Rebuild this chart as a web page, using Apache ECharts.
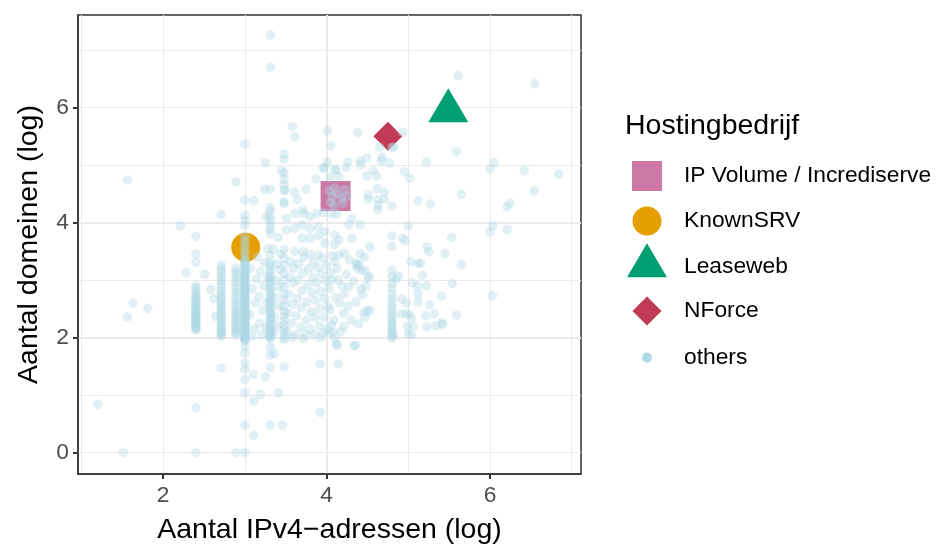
<!DOCTYPE html>
<html>
<head>
<meta charset="utf-8">
<script src="https://cdn.jsdelivr.net/npm/echarts@6/dist/echarts.min.js"></script>
<style>
  html, body { margin: 0; padding: 0; background: #fff; }
  #chart { width: 940px; height: 544px; }
</style>
</head>
<body>
<div id="chart"></div>
<script>
// named hosting companies (log scale values)
const hostNames = ['IP Volume / Incrediserve', 'KnownSRV', 'Leaseweb', 'NForce']
const hostX = [4.11, 3.01, 5.49, 4.75]
const hostY = [4.46, 3.57, 5.94, 5.50]

// tick labels
const xTicks = [2, 4, 6]
const yTicks = [0, 2, 4, 6]

// "others": points stacked on common IP counts
const columnX = [2.40, 2.71, 2.89, 3.00, 3.31, 3.48, 4.80, 2.40, 2.71, 2.89, 3.00, 3.31]
const col240 = [0.0, 0.78, 2.13, 2.17, 2.21, 2.26, 2.30, 2.35, 2.39, 2.44, 2.49, 2.54, 2.60, 2.66, 2.73, 2.81, 2.91, 3.31, 3.45, 3.76]
const col271 = [1.47, 2.02, 2.07, 2.13, 2.19, 2.26, 2.33, 2.40, 2.47, 2.55, 2.63, 2.72, 2.82, 2.93, 3.05, 3.15, 3.26, 4.14]
const col289 = [0.0, 2.05, 2.11, 2.18, 2.26, 2.34, 2.42, 2.51, 2.61, 2.72, 2.84, 2.97, 3.09, 3.21, 4.71]
const col300 = [0.0, 0.48, 1.04, 1.27, 1.45, 1.56, 1.73, 1.84, 1.95, 1.98, 2.01, 2.04, 2.07, 2.10, 2.13, 2.16, 2.19, 2.22, 2.25, 2.28,
  2.31, 2.34, 2.37, 2.40, 2.43, 2.46, 2.49, 2.52, 2.56, 2.60, 2.64, 2.68, 2.72, 2.76, 2.80, 2.84, 2.88, 2.92, 2.96, 3.00,
  3.04, 3.08, 3.12, 3.16, 3.20, 3.25, 3.30, 3.36, 3.42, 3.48, 3.55, 3.62, 3.69, 3.76, 3.95, 4.04, 4.13, 4.39, 5.36]
const col331 = [1.70, 1.84, 1.99, 2.04, 2.10, 2.16, 2.23, 2.30, 2.37, 2.44, 2.52, 2.60, 2.69, 2.78, 2.88, 2.98, 3.08, 3.19, 3.31, 3.43,
  3.81, 3.88, 3.95, 4.04, 4.10, 4.20, 4.26, 4.58, 6.70, 7.26]
const col348 = [1.49, 1.96, 2.01, 2.07, 2.14, 2.21, 2.29, 2.37, 2.46, 2.55, 2.65, 2.76, 2.88, 3.00, 3.12, 3.25, 3.38, 3.53,
  4.33, 4.36, 4.56, 4.65, 4.75, 4.86, 5.10, 5.19]
const col480 = [1.99, 2.03, 2.07, 2.11, 2.15, 2.19, 2.24, 2.29, 2.34, 2.40, 2.46, 2.53, 2.60, 2.68, 2.76, 2.85, 2.95, 3.05, 3.17,
  3.59, 3.77, 4.29, 5.31]
// repeated values on the same columns (overlapping domains)
const col240b = [2.15, 2.19, 2.24, 2.28, 2.33, 2.37, 2.42, 2.47, 2.52, 2.57, 2.63, 2.69, 2.77, 2.86]
const col271b = [2.05, 2.10, 2.16, 2.23, 2.30, 2.37, 2.44, 2.51, 2.59, 2.68, 2.77, 2.88, 2.99, 3.10, 3.20]
const col289b = [2.08, 2.15, 2.22, 2.30, 2.38, 2.46, 2.56, 2.66, 2.78, 2.90, 3.03, 3.15]
const col300b = [1.96, 1.99, 2.02, 2.05, 2.08, 2.11, 2.14, 2.17, 2.20, 2.23, 2.26, 2.29, 2.32, 2.35, 2.38, 2.41, 2.44, 2.47, 2.50,
  2.54, 2.58, 2.62, 2.66, 2.70, 2.74, 2.78, 2.82, 2.86, 2.90, 2.94, 2.98, 3.02, 3.06, 3.10, 3.14, 3.18, 3.23, 3.28, 3.33]
const col331b = [2.01, 2.07, 2.13, 2.20, 2.27, 2.34, 2.41, 2.48, 2.56, 2.64, 2.73, 2.83, 2.93, 3.03, 3.14, 3.25]
const columnY = [col240, col271, col289, col300, col331, col348, col480, col240b, col271b, col289b, col300b, col331b]

// "others": loose points
const outerPts = [[1.20, 0.84], [1.51, 0.0], [1.56, 2.36], [1.63, 2.60], [1.81, 2.51], [1.56, 4.74], [2.21, 3.94], [2.28, 3.13],
  [2.51, 3.10], [2.58, 2.84], [2.62, 2.68], [2.64, 2.37], [3.10, 1.36], [3.11, 0.90], [3.11, 0.30], [3.19, 1.01], [3.25, 1.32],
  [3.31, 1.48], [3.31, 0.48], [3.36, 1.72], [3.41, 1.04], [3.46, 0.48], [3.92, 1.54], [3.92, 0.70], [4.14, 1.54], [4.13, 1.87],
  [4.34, 1.86], [5.61, 6.55], [6.55, 6.41], [6.00, 4.93], [6.05, 5.04], [6.42, 4.90], [6.84, 4.84], [6.54, 4.55], [6.24, 4.34],
  [6.21, 4.27], [6.00, 3.84], [6.03, 3.94], [6.21, 3.88], [6.03, 2.73]]
const upperPts = [[3.58, 5.67], [3.61, 5.49], [4.01, 5.59], [4.05, 5.33], [3.25, 5.04], [4.01, 5.05], [3.97, 4.95], [4.10, 4.92],
  [3.45, 4.90], [4.38, 5.56], [4.93, 5.57], [4.65, 5.31], [4.82, 5.31], [5.59, 5.23], [5.22, 5.05], [4.68, 5.13], [4.77, 5.03],
  [4.49, 5.12], [4.41, 5.07], [4.26, 5.05], [4.12, 4.91], [4.24, 4.96], [4.42, 5.00], [4.57, 4.90], [4.67, 5.07], [4.95, 4.88],
  [4.49, 4.81], [4.61, 4.81], [5.02, 4.77], [4.15, 4.80], [4.04, 4.79], [4.62, 4.59], [4.71, 4.52], [4.51, 4.48], [4.51, 4.40],
  [4.63, 4.40], [4.63, 4.30], [4.63, 4.23], [4.71, 4.40], [5.12, 4.38], [5.27, 4.32], [5.65, 4.49], [3.87, 4.76], [3.96, 4.94],
  [3.24, 4.58], [3.49, 4.56], [3.61, 4.53], [3.75, 4.58], [3.11, 4.38], [3.64, 4.40], [3.26, 4.10], [3.51, 4.07], [3.61, 4.16],
  [3.71, 4.22], [3.72, 4.16], [3.80, 4.10], [3.88, 4.16], [3.96, 4.17], [3.41, 3.74], [3.51, 3.87], [3.61, 3.90], [3.70, 3.96],
  [3.70, 3.73], [3.80, 3.90], [3.80, 3.73], [3.90, 3.92], [3.90, 3.77], [3.98, 3.84], [3.98, 3.64], [3.71, 3.49], [3.28, 3.54],
  [3.35, 3.54], [3.80, 3.45], [3.90, 3.44], [4.03, 4.55], [4.07, 4.45], [4.13, 4.50], [4.18, 4.42], [4.05, 4.35], [4.22, 4.57],
  [4.10, 4.60], [4.25, 4.45], [4.20, 4.33], [4.09, 4.30], [4.06, 4.16], [4.12, 4.15], [4.31, 4.07], [4.27, 3.96], [4.41, 3.96],
  [4.10, 3.78], [4.15, 3.70], [4.10, 3.62], [4.31, 3.73], [4.53, 3.58], [4.93, 3.73], [4.96, 3.68], [5.00, 3.94], [5.23, 3.58],
  [5.25, 3.49], [5.45, 3.46], [5.53, 3.74], [4.41, 3.46], [4.22, 3.46], [4.15, 3.43], [4.37, 3.29], [4.37, 3.20]]
const rightPts = [[5.65, 3.27], [5.03, 3.32], [5.12, 3.29], [5.15, 3.29], [5.17, 3.08], [5.05, 2.95], [5.11, 2.90], [5.22, 2.90],
  [5.54, 2.94], [5.41, 2.72], [5.12, 2.76], [5.12, 2.62], [5.26, 2.57], [5.21, 2.38], [5.32, 2.41], [5.59, 2.39], [5.41, 2.26],
  [5.34, 2.21], [4.98, 2.60], [5.01, 2.39], [5.04, 2.34], [4.99, 2.19], [4.88, 3.07], [4.85, 3.01], [4.92, 2.67], [4.97, 2.42],
  [4.91, 2.41], [4.82, 2.05], [5.04, 2.05], [5.06, 2.20], [5.23, 2.19], [5.42, 2.23], [5.00, 2.06], [4.48, 2.90], [4.42, 2.84],
  [4.52, 3.06], [4.47, 3.16], [4.50, 2.47], [4.46, 2.44], [4.21, 2.75], [4.16, 2.60], [4.21, 2.42], [4.39, 2.24], [4.21, 2.20],
  [4.06, 2.22], [4.10, 3.32], [4.37, 3.27], [4.43, 3.17], [4.51, 3.04], [4.27, 2.88], [4.14, 3.00], [4.06, 3.00], [4.04, 2.48],
  [4.53, 2.47], [4.47, 2.35], [4.08, 2.09], [4.04, 2.08], [4.12, 1.88], [4.35, 1.86]]
const centerPts = [[3.08, 2.02], [3.06, 2.40], [3.09, 2.85], [3.07, 3.20], [3.12, 2.15], [3.13, 2.60], [3.14, 3.02], [3.15, 3.40],
  [3.18, 2.25], [3.17, 2.72], [3.19, 3.15], [3.21, 2.05], [3.22, 2.48], [3.23, 2.90], [3.24, 3.30], [3.26, 2.18], [3.27, 2.62],
  [3.28, 3.05], [3.35, 2.08], [3.36, 2.35], [3.37, 2.70], [3.38, 3.00], [3.39, 3.28], [3.40, 2.20], [3.41, 2.55], [3.42, 2.88],
  [3.43, 3.18], [3.44, 3.45], [3.52, 2.10], [3.53, 2.42], [3.54, 2.75], [3.55, 3.05], [3.56, 3.32], [3.57, 2.25], [3.58, 2.58],
  [3.59, 2.95], [3.60, 3.20], [3.61, 3.50], [3.62, 2.05], [3.63, 2.38], [3.64, 2.68], [3.65, 3.00], [3.66, 3.28], [3.68, 2.18],
  [3.69, 2.52], [3.70, 2.82], [3.71, 3.12], [3.72, 3.40], [3.74, 2.05], [3.75, 2.30], [3.76, 2.62], [3.77, 2.92], [3.78, 3.20],
  [3.79, 2.15], [3.81, 2.45], [3.82, 2.78], [3.83, 3.05], [3.84, 3.32], [3.85, 2.05], [3.86, 2.35], [3.87, 2.65], [3.88, 2.95],
  [3.89, 3.22], [3.91, 2.20], [3.92, 2.50], [3.93, 2.80], [3.94, 3.10], [3.95, 3.38], [3.96, 2.08], [3.97, 2.35], [3.98, 2.68],
  [3.99, 2.98], [4.00, 3.25], [4.01, 2.15], [4.02, 2.55], [4.03, 2.85], [4.05, 3.12], [4.07, 3.42], [4.09, 2.30], [4.11, 2.70],
  [4.13, 3.20], [4.17, 2.10], [4.19, 2.90], [4.24, 3.10], [4.26, 2.55], [4.28, 3.35], [4.30, 2.30], [4.33, 2.98], [4.36, 2.62],
  [4.40, 3.25], [4.44, 2.75], [4.46, 3.40], [3.30, 2.02], [3.58, 2.00], [3.72, 1.98], [3.93, 2.00], [4.10, 1.98]]

const FONT = '"Liberation Sans", Arial, sans-serif'
const hostColors = ['#CC79A7', '#E69F00', '#009E73', '#C13B57']
const hostSymbols = ['rect', 'circle', 'triangle', 'diamond']
const hostSizes = [[30, 30], [29, 29], [40, 34], [29, 29]]

let othersData = []
columnX.forEach((x, i) => {
  columnY[i].forEach(y => othersData.push([x, y]))
})
othersData = othersData.concat(outerPts, upperPts, rightPts, centerPts)

const chart = echarts.init(document.getElementById('chart'), null, { renderer: 'canvas' })

function evenLabel(v) {
  const r = Math.round(v)
  if (Math.abs(v - r) > 1e-6 || r % 2 !== 0) return ''
  return String(r)
}

const majorLine = { show: true, showMinLine: false, showMaxLine: false, lineStyle: { color: '#EBEBEB', width: 2 } }
const minorLine = { show: true, showMinLine: false, showMaxLine: false, lineStyle: { color: '#EBEBEB', width: 1 } }
const hidden = { show: false }
const noLine = { show: false, onZero: false }
const darkLine = { show: true, onZero: false, lineStyle: { color: '#333', width: 1.5 } }

const series = hostNames.map((name, i) => ({
  name: name,
  type: 'scatter',
  symbol: hostSymbols[i],
  symbolSize: hostSizes[i],
  symbolOffset: i === 2 ? [0, -5.7] : [0, 0],
  itemStyle: { color: hostColors[i], opacity: 1 },
  data: [[hostX[i], hostY[i]]],
  z: 2
}))
series.push({
  name: 'others',
  type: 'scatter',
  symbol: 'circle',
  symbolSize: 9.5,
  itemStyle: { color: '#ADD8E6', opacity: 0.38 },
  data: othersData,
  z: 3
})

// ggplot-like legend: one component per key so each keeps its own size
const legendNames = hostNames.concat(['others'])
const legendIcons = ['rect', 'circle', 'path://M20,0 L40,34 L0,34 Z M0,46 L0.01,46', 'diamond', 'circle']
const legendSizes = [[30, 30], [29, 29], [40, 46], [29, 29], [10, 10]]
const legendTops = [161, 206.5, 243.3, 296.5, 346]
const legends = legendNames.map((name, i) => {
  const w = legendSizes[i][0], h = legendSizes[i][1]
  return {
    data: [{ name: name, icon: legendIcons[i] }],
    orient: 'vertical',
    left: 647 - w / 2,
    top: legendTops[i],
    itemWidth: w,
    itemHeight: h,
    selectedMode: false,
    padding: 0,
    itemStyle: { opacity: 1 },
    textStyle: { fontSize: 22.8, color: '#000', fontFamily: FONT, padding: [0, 0, 0, 32 - w / 2] }
  }
})

chart.setOption({
  animation: false,
  backgroundColor: '#fff',
  title: {
    text: 'Hostingbedrijf',
    left: 625,
    top: 112,
    padding: 0,
    textStyle: { fontSize: 28.5, fontWeight: 'normal', color: '#000', fontFamily: FONT }
  },
  legend: legends,
  grid: {
    left: 78, right: 359, top: 15, bottom: 70,
    show: true, borderColor: '#333', borderWidth: 1.5,
    containLabel: false, outerBoundsMode: 'none'
  },
  xAxis: [{
    type: 'value', min: 0.957, max: 7.114, splitNumber: 3,
    axisLine: darkLine,
    axisTick: { show: true, length: 5, customValues: xTicks, lineStyle: { color: '#333', width: 2 } },
    axisLabel: { formatter: evenLabel, customValues: xTicks, color: '#4D4D4D', fontSize: 22.8, fontFamily: FONT, margin: 10 },
    splitLine: majorLine,
    name: 'Aantal IPv4\u2212adressen (log)', nameLocation: 'middle', nameGap: 42,
    nameTextStyle: { fontSize: 28.5, color: '#000', fontFamily: FONT }
  }, {
    type: 'value', min: 0.957, max: 7.114, splitNumber: 6, position: 'bottom',
    axisLine: noLine, axisTick: hidden, axisLabel: hidden, splitLine: minorLine
  }],
  yAxis: [{
    type: 'value', min: -0.37, max: 7.606, splitNumber: 4,
    axisLine: darkLine,
    axisTick: { show: true, length: 5, customValues: yTicks, lineStyle: { color: '#333', width: 2 } },
    axisLabel: { formatter: evenLabel, customValues: yTicks, color: '#4D4D4D', fontSize: 22.8, fontFamily: FONT, margin: 9 },
    splitLine: majorLine,
    name: 'Aantal domeinen (log)', nameLocation: 'middle', nameGap: 34, nameRotate: 90,
    nameTextStyle: { fontSize: 28.5, color: '#000', fontFamily: FONT }
  }, {
    type: 'value', min: -0.37, max: 7.606, splitNumber: 7, position: 'left',
    axisLine: noLine, axisTick: hidden, axisLabel: hidden, splitLine: minorLine
  }],
  series: series
})
</script>
</body>
</html>
